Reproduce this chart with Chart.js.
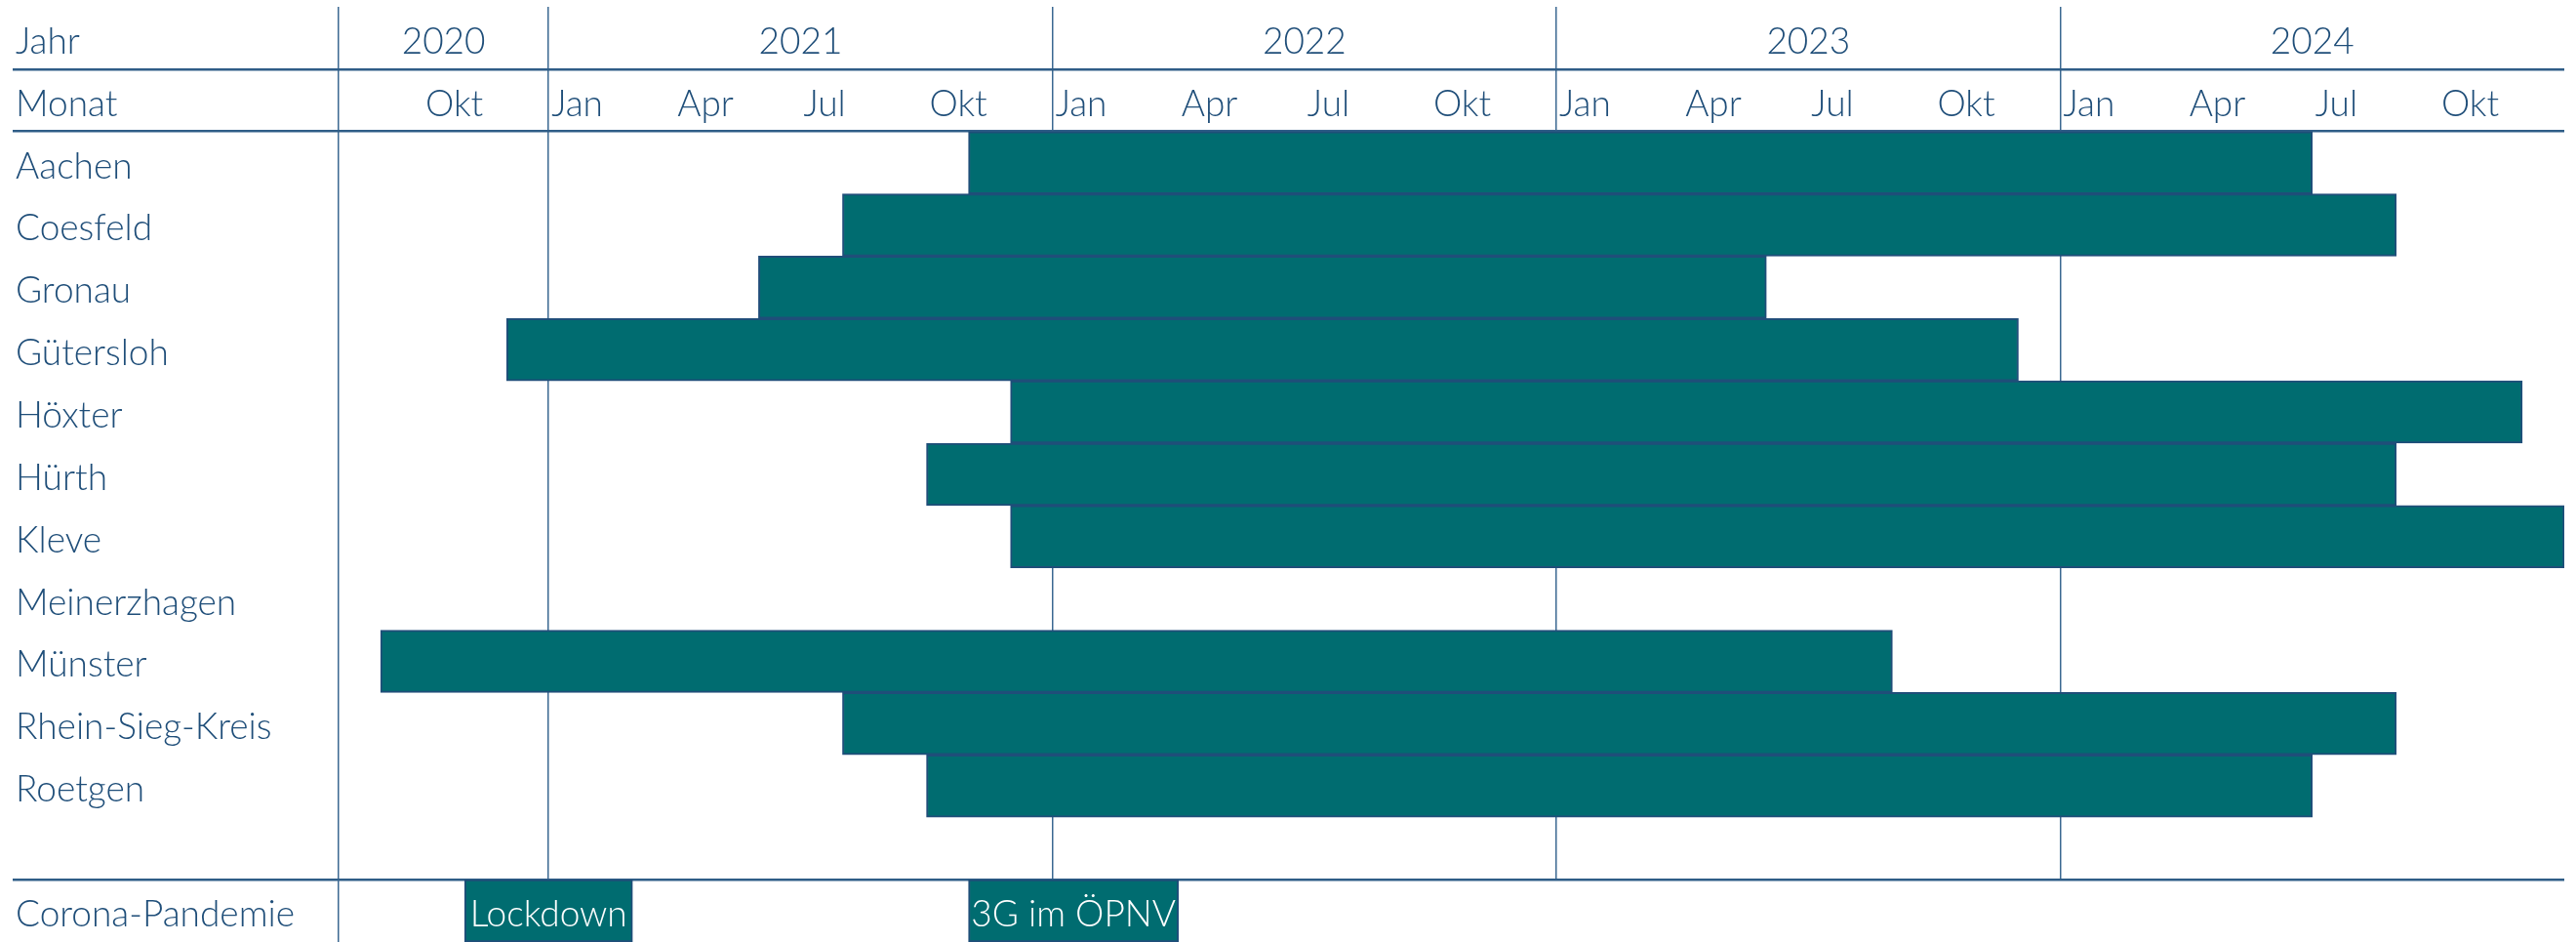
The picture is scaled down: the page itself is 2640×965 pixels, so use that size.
<!DOCTYPE html>
<html lang="de">
<head>
<meta charset="utf-8">
<title>Projektzeiträume je Kommune</title>
<script src="https://cdn.jsdelivr.net/npm/chart.js@4/dist/chart.umd.min.js"></script>
<style>
  html, body { margin: 0; padding: 0; background: #fff; }
  #wrap { position: relative; width: 2640px; height: 965px; overflow: hidden; }
  #top-box { position: absolute; left: 0; top: 0; width: 2640px; height: 903px; }
  #bottom-box { position: absolute; left: 0; top: 901px; width: 2640px; height: 64px; }
</style>
</head>
<body>
<div id="wrap">
  <div id="top-box"><canvas id="chart-main"></canvas></div>
  <div id="bottom-box"><canvas id="chart-events"></canvas></div>
</div>
<script>
/* === DATEN === */
const orte = ['Aachen', 'Coesfeld', 'Gronau', 'Gütersloh', 'Höxter', 'Hürth', 'Kleve',
              'Meinerzhagen', 'Münster', 'Rhein-Sieg-Kreis', 'Roetgen'];
// Beginn / Ende jeweils als Monatsanfang (Ende = erster Monat danach)
const beginn = ['2021-11', '2021-08', '2021-06', '2020-12', '2021-12', '2021-10', '2021-12',
                null, '2020-09', '2021-08', '2021-10'];
const ende = ['2024-07', '2024-09', '2023-06', '2023-12', '2024-12', '2024-09', '2025-01',
              null, '2023-09', '2024-09', '2024-07'];

const ereignisZeile = 'Corona-Pandemie';
const ereignisse = ['Lockdown', '3G im ÖPNV'];
const ereignisBeginn = ['2020-11', '2021-11'];
const ereignisEnde = ['2021-03', '2022-04'];

const jahre = [2020, 2021, 2022, 2023, 2024];
const quartalsMonate = [1, 4, 7, 10];
const monatsNamen = ['Jan', 'Apr', 'Jul', 'Okt'];
const achseStart = '2020-08';
const achseEnde = '2025-01';

/* === FARBEN / SCHRIFT === */
const TEXT = '#1f4e79';
const FILL = '#006c70';
const RAND = '#1f4e79';
const LINIE_V = '#3b6891';
const LINIE_H = '#2f5d87';
const FONT = { family: 'Lato', size: 37, weight: 300 };
const LABEL_BREITE = 331;

function monatIndex(s) {
    const [j, m] = s.split('-').map(Number);
    const [j0, m0] = achseStart.split('-').map(Number);
    return (j - j0) * 12 + (m - m0);
}
const MAX = monatIndex(achseEnde);

// Monats-Ticks (Quartale) + linker Rand
let monatTicks = [{ value: 0, label: '', jahr: true }];
for (const j of jahre) {
    quartalsMonate.forEach((m, k) => {
        const v = monatIndex(`${j}-${String(m).padStart(2, '0')}`);
        if (v > 0 && v < MAX) monatTicks.push({ value: v, label: monatsNamen[k], jahr: m === 1 });
    });
}
const jahrTicks = jahre.map(j => {
    const a = Math.max(monatIndex(`${j}-01`), 0);
    const b = Math.min(monatIndex(`${j + 1}-01`), MAX);
    return { value: (a + b) / 2, label: String(j) };
});

const zeilen = ['Jahr', 'Monat', ...orte, ''];
let balken = [];
orte.forEach((o, i) => {
    if (beginn[i] && ende[i]) balken.push({ y: o, x: [monatIndex(beginn[i]), monatIndex(ende[i])] });
});
const ereignisBalken = ereignisse.map((e, i) => ({
    y: ereignisZeile, x: [monatIndex(ereignisBeginn[i]), monatIndex(ereignisEnde[i])]
}));

// y-Achse: feste Breite, keine Zusatzränder oben/unten
function yFit(s) {
    s.width = LABEL_BREITE;
    s.paddingTop = 0;
    s.paddingBottom = 0;
}

/* === HAUPTDIAGRAMM === */
new Chart(document.getElementById('chart-main'), {
    type: 'bar',
    data: {
        labels: zeilen,
        datasets: [{
            data: balken,
            backgroundColor: FILL,
            borderColor: RAND,
            borderWidth: 2,
            borderSkipped: false,
            barPercentage: 1,
            categoryPercentage: 1
        }]
    },
    options: {
        indexAxis: 'y',
        responsive: true,
        maintainAspectRatio: false,
        animation: false,
        layout: { padding: { left: 16, right: 12, top: 7, bottom: 2 } },
        plugins: { legend: { display: false }, tooltip: { enabled: false } },
        scales: {
            x: {
                type: 'linear', position: 'top', min: 0, max: MAX, weight: 1,
                afterBuildTicks: s => { s.ticks = monatTicks.map(t => ({ value: t.value })); },
                afterFit: s => { s.height = 0; s.paddingLeft = 0; s.paddingRight = 0; },
                ticks: {
                    autoSkip: false, maxRotation: 0, align: 'start', mirror: true,
                    padding: 78, labelOffset: 3,
                    color: TEXT, font: FONT,
                    callback: v => (monatTicks.find(t => t.value === v) || {}).label || ''
                },
                grid: {
                    color: c => {
                        const t = c.tick && monatTicks.find(m => m.value === c.tick.value);
                        return t && t.jahr ? LINIE_V : 'transparent';
                    },
                    lineWidth: 1.5,
                    drawTicks: false
                },
                border: { display: false }
            },
            xJahr: {
                type: 'linear', position: 'top', min: 0, max: MAX, weight: 2,
                afterBuildTicks: s => { s.ticks = jahrTicks.map(t => ({ value: t.value })); },
                afterFit: s => { s.height = 0; s.paddingLeft = 0; s.paddingRight = 0; },
                ticks: {
                    autoSkip: false, maxRotation: 0, mirror: true, padding: 14,
                    color: TEXT, font: FONT,
                    callback: v => (jahrTicks.find(t => t.value === v) || {}).label || ''
                },
                grid: { display: false, drawTicks: false },
                border: { display: false }
            },
            y: {
                afterFit: yFit,
                ticks: { crossAlign: 'far', color: TEXT, font: FONT, padding: 0, labelOffset: 4 },
                grid: {
                    offset: true,
                    color: c => (c.index === 1 || c.index === 2 || c.index === undefined) ? LINIE_H : 'transparent',
                    lineWidth: 2.5,
                    tickLength: LABEL_BREITE + 3
                },
                border: { display: false }
            }
        }
    }
});

/* === EREIGNISZEILE === */
const balkenText = {
    id: 'balkenText',
    afterDatasetsDraw(chart) {
        const ctx = chart.ctx;
        const meta = chart.getDatasetMeta(0);
        ctx.save();
        ctx.fillStyle = '#ffffff';
        ctx.font = `${FONT.weight} ${FONT.size}px ${FONT.family}`;
        ctx.textAlign = 'center';
        ctx.textBaseline = 'middle';
        meta.data.forEach((bar, i) => {
            const p = bar.getCenterPoint();
            ctx.fillText(ereignisse[i], p.x, p.y + 4);
        });
        ctx.restore();
    }
};

new Chart(document.getElementById('chart-events'), {
    type: 'bar',
    data: {
        labels: [ereignisZeile],
        datasets: [{
            data: ereignisBalken,
            backgroundColor: FILL,
            borderColor: RAND,
            borderWidth: 2,
            borderSkipped: false,
            barPercentage: 1,
            categoryPercentage: 1
        }]
    },
    options: {
        indexAxis: 'y',
        responsive: true,
        maintainAspectRatio: false,
        animation: false,
        layout: { padding: { left: 16, right: 12, top: 0, bottom: 0 } },
        plugins: { legend: { display: false }, tooltip: { enabled: false } },
        scales: {
            x: { type: 'linear', display: false, min: 0, max: MAX },
            y: {
                afterFit: yFit,
                ticks: { crossAlign: 'far', color: TEXT, font: FONT, padding: 0, labelOffset: 4 },
                grid: { display: false },
                border: { display: true, color: LINIE_V, width: 1.5 }
            }
        }
    },
    plugins: [balkenText]
});
</script>
</body>
</html>
